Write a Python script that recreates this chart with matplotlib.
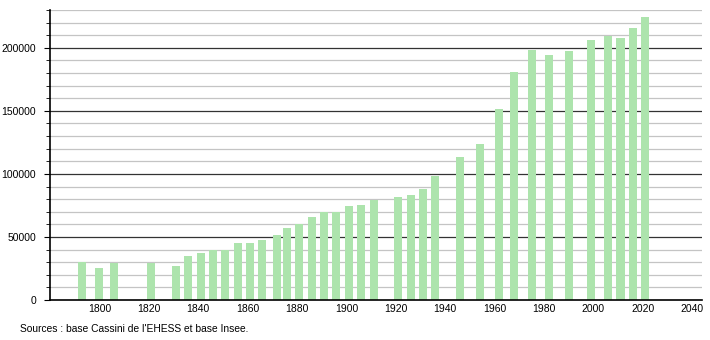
import matplotlib.pyplot as plt
import numpy as np

years = [1793, 1800, 1806, 1821, 1831, 1836, 1841, 1846, 1851, 1856, 1861, 1866,
         1872, 1876, 1881, 1886, 1891, 1896, 1901, 1906, 1911, 1921, 1926, 1931,
         1936, 1946, 1954, 1962, 1968, 1975, 1982, 1990, 1999, 2006, 2011, 2016, 2021]
population = [30150, 25600, 29100, 29100, 27200, 34900, 37000, 39700, 39700, 45000,
              45000, 47600, 51600, 57100, 60300, 65900, 69800, 69800, 74600, 75400,
              79400, 81700, 83600, 88100, 98400, 113500, 123800, 151600, 181000,
              198400, 194700, 197600, 206300, 209500, 207900, 215900, 224600]
x_ticks = [1800, 1820, 1840, 1860, 1880, 1900, 1920, 1940, 1960, 1980, 2000, 2020, 2040]
y_ticks = [0, 50000, 100000, 150000, 200000]

plt.rcParams['font.family'] = ['Liberation Sans', 'DejaVu Sans']

fig = plt.figure(figsize=(7.1, 3.4), dpi=100)
ax = fig.add_axes([50 / 710, 40 / 340, 652 / 710, 290 / 340])

# grid: light every 10000, dark every 50000
for v in np.arange(10000, 230001, 10000):
    if v % 50000 == 0:
        ax.axhline(v, color='#333333', lw=0.9, zorder=0)
    else:
        ax.axhline(v, color='#c4c4c4', lw=0.9, zorder=0)

ax.bar(years, population, width=3.25, color='#ade4ad', zorder=2)

ax.set_xlim(1780, 2044)
ax.set_ylim(0, 230000)
ax.set_xticks(x_ticks)
ax.set_yticks(y_ticks)
ax.set_yticks(np.arange(0, 230001, 10000), minor=True)
ax.tick_params(axis='x', length=0, labelsize=7.5, pad=3)
ax.tick_params(axis='y', which='major', length=4, labelsize=7.5, pad=6)
ax.tick_params(axis='y', which='minor', length=3)

for s in ['top', 'right']:
    ax.spines[s].set_visible(False)
ax.spines['left'].set_linewidth(1.2)
ax.spines['bottom'].set_linewidth(1.2)

fig.text(20 / 710, 1 - 329 / 340, "Sources : base Cassini de l'EHESS et base Insee.",
         fontsize=7.4, va='center', ha='left')

fig.savefig('out.png', dpi=100)
